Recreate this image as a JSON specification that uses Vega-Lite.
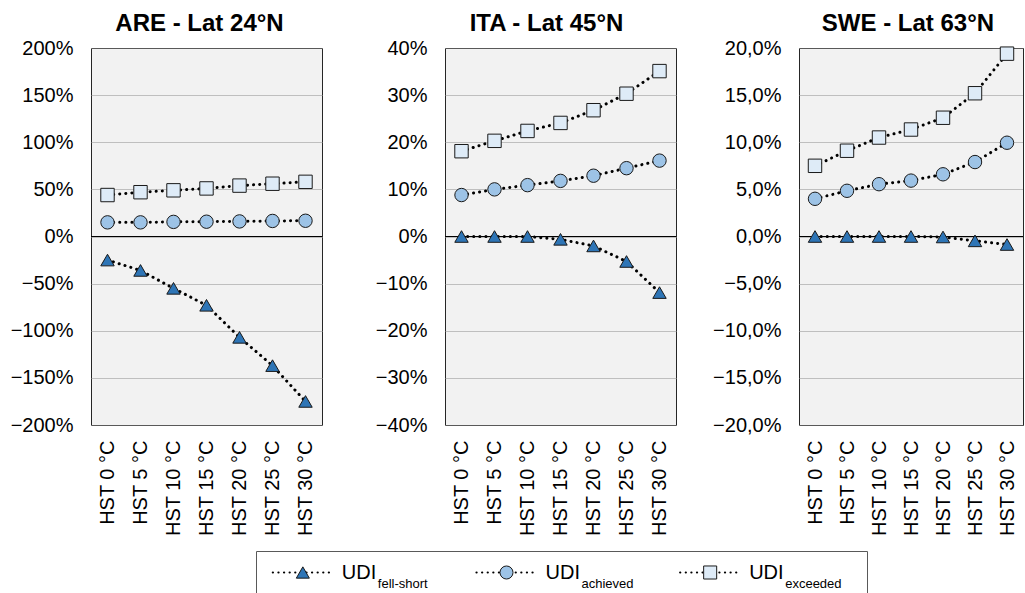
{
  "$schema": "https://vega.github.io/schema/vega-lite/v6.json",
  "background": "white",
  "padding": {"left": 9, "top": 11, "right": 0, "bottom": 0},
  "config": {
    "font": "Liberation Sans",
    "view": {"fill": "#F2F2F2", "stroke": "#262626", "strokeWidth": 1},
    "axisX": {"labelAngle": -90, "labelAlign": "right", "labelBaseline": "middle", "labelFontSize": 20, "labelColor": "#000", "ticks": false, "domain": false, "grid": false, "title": null, "labelPadding": 15},
    "axisY": {"grid": true, "gridColor": "#8c8c8c", "gridDash": [1, 1], "gridWidth": 1, "ticks": false, "domain": false, "labelFontSize": 20, "labelColor": "#000", "labelPadding": 18, "title": null},
    "title": {"fontSize": 24, "fontWeight": "bold", "color": "#000", "anchor": "middle"}
  },
  "datasets": {
    "udi": [
      {"c": "ARE", "hst": "HST 0 °C", "s": "fell-short", "v": -0.25},
      {"c": "ARE", "hst": "HST 5 °C", "s": "fell-short", "v": -0.36},
      {"c": "ARE", "hst": "HST 10 °C", "s": "fell-short", "v": -0.55},
      {"c": "ARE", "hst": "HST 15 °C", "s": "fell-short", "v": -0.73},
      {"c": "ARE", "hst": "HST 20 °C", "s": "fell-short", "v": -1.07},
      {"c": "ARE", "hst": "HST 25 °C", "s": "fell-short", "v": -1.37},
      {"c": "ARE", "hst": "HST 30 °C", "s": "fell-short", "v": -1.75},
      {"c": "ARE", "hst": "HST 0 °C", "s": "achieved", "v": 0.15},
      {"c": "ARE", "hst": "HST 5 °C", "s": "achieved", "v": 0.15},
      {"c": "ARE", "hst": "HST 10 °C", "s": "achieved", "v": 0.155},
      {"c": "ARE", "hst": "HST 15 °C", "s": "achieved", "v": 0.157},
      {"c": "ARE", "hst": "HST 20 °C", "s": "achieved", "v": 0.16},
      {"c": "ARE", "hst": "HST 25 °C", "s": "achieved", "v": 0.165},
      {"c": "ARE", "hst": "HST 30 °C", "s": "achieved", "v": 0.167},
      {"c": "ARE", "hst": "HST 0 °C", "s": "exceeded", "v": 0.44},
      {"c": "ARE", "hst": "HST 5 °C", "s": "exceeded", "v": 0.47},
      {"c": "ARE", "hst": "HST 10 °C", "s": "exceeded", "v": 0.49},
      {"c": "ARE", "hst": "HST 15 °C", "s": "exceeded", "v": 0.51},
      {"c": "ARE", "hst": "HST 20 °C", "s": "exceeded", "v": 0.54},
      {"c": "ARE", "hst": "HST 25 °C", "s": "exceeded", "v": 0.56},
      {"c": "ARE", "hst": "HST 30 °C", "s": "exceeded", "v": 0.58},
      {"c": "ITA", "hst": "HST 0 °C", "s": "fell-short", "v": 0.0},
      {"c": "ITA", "hst": "HST 5 °C", "s": "fell-short", "v": 0.0},
      {"c": "ITA", "hst": "HST 10 °C", "s": "fell-short", "v": 0.0},
      {"c": "ITA", "hst": "HST 15 °C", "s": "fell-short", "v": -0.006},
      {"c": "ITA", "hst": "HST 20 °C", "s": "fell-short", "v": -0.02},
      {"c": "ITA", "hst": "HST 25 °C", "s": "fell-short", "v": -0.053},
      {"c": "ITA", "hst": "HST 30 °C", "s": "fell-short", "v": -0.119},
      {"c": "ITA", "hst": "HST 0 °C", "s": "achieved", "v": 0.088},
      {"c": "ITA", "hst": "HST 5 °C", "s": "achieved", "v": 0.1},
      {"c": "ITA", "hst": "HST 10 °C", "s": "achieved", "v": 0.109},
      {"c": "ITA", "hst": "HST 15 °C", "s": "achieved", "v": 0.118},
      {"c": "ITA", "hst": "HST 20 °C", "s": "achieved", "v": 0.129},
      {"c": "ITA", "hst": "HST 25 °C", "s": "achieved", "v": 0.145},
      {"c": "ITA", "hst": "HST 30 °C", "s": "achieved", "v": 0.161},
      {"c": "ITA", "hst": "HST 0 °C", "s": "exceeded", "v": 0.181},
      {"c": "ITA", "hst": "HST 5 °C", "s": "exceeded", "v": 0.203},
      {"c": "ITA", "hst": "HST 10 °C", "s": "exceeded", "v": 0.224},
      {"c": "ITA", "hst": "HST 15 °C", "s": "exceeded", "v": 0.241},
      {"c": "ITA", "hst": "HST 20 °C", "s": "exceeded", "v": 0.268},
      {"c": "ITA", "hst": "HST 25 °C", "s": "exceeded", "v": 0.303},
      {"c": "ITA", "hst": "HST 30 °C", "s": "exceeded", "v": 0.351},
      {"c": "SWE", "hst": "HST 0 °C", "s": "fell-short", "v": 0.0},
      {"c": "SWE", "hst": "HST 5 °C", "s": "fell-short", "v": 0.0},
      {"c": "SWE", "hst": "HST 10 °C", "s": "fell-short", "v": 0.0},
      {"c": "SWE", "hst": "HST 15 °C", "s": "fell-short", "v": 0.0},
      {"c": "SWE", "hst": "HST 20 °C", "s": "fell-short", "v": -0.0005},
      {"c": "SWE", "hst": "HST 25 °C", "s": "fell-short", "v": -0.0046},
      {"c": "SWE", "hst": "HST 30 °C", "s": "fell-short", "v": -0.0085},
      {"c": "SWE", "hst": "HST 0 °C", "s": "achieved", "v": 0.04},
      {"c": "SWE", "hst": "HST 5 °C", "s": "achieved", "v": 0.0485},
      {"c": "SWE", "hst": "HST 10 °C", "s": "achieved", "v": 0.0555},
      {"c": "SWE", "hst": "HST 15 °C", "s": "achieved", "v": 0.0593},
      {"c": "SWE", "hst": "HST 20 °C", "s": "achieved", "v": 0.066},
      {"c": "SWE", "hst": "HST 25 °C", "s": "achieved", "v": 0.079},
      {"c": "SWE", "hst": "HST 30 °C", "s": "achieved", "v": 0.0995},
      {"c": "SWE", "hst": "HST 0 °C", "s": "exceeded", "v": 0.075},
      {"c": "SWE", "hst": "HST 5 °C", "s": "exceeded", "v": 0.091},
      {"c": "SWE", "hst": "HST 10 °C", "s": "exceeded", "v": 0.105},
      {"c": "SWE", "hst": "HST 15 °C", "s": "exceeded", "v": 0.1135},
      {"c": "SWE", "hst": "HST 20 °C", "s": "exceeded", "v": 0.126},
      {"c": "SWE", "hst": "HST 25 °C", "s": "exceeded", "v": 0.152},
      {"c": "SWE", "hst": "HST 30 °C", "s": "exceeded", "v": 0.194}
    ],
    "leg": [
      {"s": "fell-short", "main": "UDI", "sub": "fell-short"},
      {"s": "achieved", "main": "UDI", "sub": "achieved"},
      {"s": "exceeded", "main": "UDI", "sub": "exceeded"}
    ]
  },
  "spacing": 13,
  "vconcat": [
    {
      "bounds": "flush",
      "spacing": 123,
      "hconcat": [
        {
          "width": 231, "height": 377,
          "title": {"text": "ARE - Lat 24°N", "dx": -7, "offset": 2},
          "data": {"name": "udi"},
          "transform": [{"filter": "datum.c === 'ARE'"}],
          "layer": [
            {"data": {"values": [{}]}, "mark": {"type": "rule", "color": "#000", "strokeWidth": 1.2}, "encoding": {"y": {"datum": 0, "type": "quantitative"}}},
            {"mark": {"type": "line", "color": "#000", "strokeDash": [0.1, 6], "strokeWidth": 3, "strokeCap": "round"},
             "encoding": {"x": {"field": "hst", "type": "ordinal", "sort": ["HST 0 °C", "HST 5 °C", "HST 10 °C", "HST 15 °C", "HST 20 °C", "HST 25 °C", "HST 30 °C"]}, "y": {"field": "v", "type": "quantitative"}, "detail": {"field": "s"}}},
            {"mark": {"type": "point", "filled": true, "size": 180, "stroke": "#1a1a1a", "strokeWidth": 1, "opacity": 1},
             "encoding": {"x": {"field": "hst", "type": "ordinal", "sort": ["HST 0 °C", "HST 5 °C", "HST 10 °C", "HST 15 °C", "HST 20 °C", "HST 25 °C", "HST 30 °C"]}, "y": {"field": "v", "type": "quantitative"},
               "shape": {"field": "s", "type": "nominal", "scale": {"domain": ["fell-short", "achieved", "exceeded"], "range": ["triangle-up", "circle", "square"]}, "legend": null},
               "fill": {"field": "s", "type": "nominal", "scale": {"domain": ["fell-short", "achieved", "exceeded"], "range": ["#2E75B6", "#9DC3E6", "#DEEBF7"]}, "legend": null}}}
          ],
          "encoding": {
            "y": {"scale": {"domain": [-2, 2], "nice": false, "zero": false}, "axis": {"values": [-2, -1.5, -1, -0.5, 0, 0.5, 1, 1.5, 2], "format": ".0%"}}
          }
        },
        {
          "width": 231, "height": 377,
          "title": {"text": "ITA - Lat 45°N", "dx": -14, "offset": 2},
          "data": {"name": "udi"},
          "transform": [{"filter": "datum.c === 'ITA'"}],
          "layer": [
            {"data": {"values": [{}]}, "mark": {"type": "rule", "color": "#000", "strokeWidth": 1.2}, "encoding": {"y": {"datum": 0, "type": "quantitative"}}},
            {"mark": {"type": "line", "color": "#000", "strokeDash": [0.1, 6], "strokeWidth": 3, "strokeCap": "round"},
             "encoding": {"x": {"field": "hst", "type": "ordinal", "sort": ["HST 0 °C", "HST 5 °C", "HST 10 °C", "HST 15 °C", "HST 20 °C", "HST 25 °C", "HST 30 °C"]}, "y": {"field": "v", "type": "quantitative"}, "detail": {"field": "s"}}},
            {"mark": {"type": "point", "filled": true, "size": 180, "stroke": "#1a1a1a", "strokeWidth": 1, "opacity": 1},
             "encoding": {"x": {"field": "hst", "type": "ordinal", "sort": ["HST 0 °C", "HST 5 °C", "HST 10 °C", "HST 15 °C", "HST 20 °C", "HST 25 °C", "HST 30 °C"]}, "y": {"field": "v", "type": "quantitative"},
               "shape": {"field": "s", "type": "nominal", "scale": {"domain": ["fell-short", "achieved", "exceeded"], "range": ["triangle-up", "circle", "square"]}, "legend": null},
               "fill": {"field": "s", "type": "nominal", "scale": {"domain": ["fell-short", "achieved", "exceeded"], "range": ["#2E75B6", "#9DC3E6", "#DEEBF7"]}, "legend": null}}}
          ],
          "encoding": {
            "y": {"scale": {"domain": [-0.4, 0.4], "nice": false, "zero": false}, "axis": {"values": [-0.4, -0.3, -0.2, -0.1, 0, 0.1, 0.2, 0.3, 0.4], "format": ".0%"}}
          }
        },
        {
          "width": 224, "height": 377,
          "title": {"text": "SWE - Lat 63°N", "dx": -3, "offset": 2},
          "data": {"name": "udi"},
          "transform": [{"filter": "datum.c === 'SWE'"}],
          "layer": [
            {"data": {"values": [{}]}, "mark": {"type": "rule", "color": "#000", "strokeWidth": 1.2}, "encoding": {"y": {"datum": 0, "type": "quantitative"}}},
            {"mark": {"type": "line", "color": "#000", "strokeDash": [0.1, 6], "strokeWidth": 3, "strokeCap": "round"},
             "encoding": {"x": {"field": "hst", "type": "ordinal", "sort": ["HST 0 °C", "HST 5 °C", "HST 10 °C", "HST 15 °C", "HST 20 °C", "HST 25 °C", "HST 30 °C"]}, "y": {"field": "v", "type": "quantitative"}, "detail": {"field": "s"}}},
            {"mark": {"type": "point", "filled": true, "size": 180, "stroke": "#1a1a1a", "strokeWidth": 1, "opacity": 1},
             "encoding": {"x": {"field": "hst", "type": "ordinal", "sort": ["HST 0 °C", "HST 5 °C", "HST 10 °C", "HST 15 °C", "HST 20 °C", "HST 25 °C", "HST 30 °C"]}, "y": {"field": "v", "type": "quantitative"},
               "shape": {"field": "s", "type": "nominal", "scale": {"domain": ["fell-short", "achieved", "exceeded"], "range": ["triangle-up", "circle", "square"]}, "legend": null},
               "fill": {"field": "s", "type": "nominal", "scale": {"domain": ["fell-short", "achieved", "exceeded"], "range": ["#2E75B6", "#9DC3E6", "#DEEBF7"]}, "legend": null}}}
          ],
          "encoding": {
            "y": {"scale": {"domain": [-0.2, 0.2], "nice": false, "zero": false}, "axis": {"values": [-0.2, -0.15, -0.1, -0.05, 0, 0.05, 0.1, 0.15, 0.2], "labelExpr": "replace(format(datum.value, '.1%'), '.', ',')"}}
          }
        }
      ]
    },
    {
      "bounds": "flush",
      "spacing": 0,
      "hconcat": [
        {"width": 165, "height": 43, "data": {"values": []}, "mark": "point", "view": {"stroke": null, "fill": null}},
        {
          "width": 611, "height": 43,
          "view": {"fill": "white", "stroke": "#595959", "strokeWidth": 1},
          "data": {"name": "leg"},
          "encoding": {
            "x": {"field": "s", "type": "nominal", "sort": ["fell-short", "achieved", "exceeded"], "scale": {"type": "band", "paddingInner": 0, "paddingOuter": 0}, "axis": null},
            "y": {"datum": 0, "type": "quantitative", "scale": {"domain": [-1, 1]}, "axis": null}
          },
          "layer": [
            {"mark": {"type": "rule", "xOffset": -85, "x2Offset": -27, "strokeDash": [0.1, 5.5], "strokeWidth": 2.2, "strokeCap": "round", "color": "#000"}, "encoding": {"x2": {"field": "s"}}},
            {"mark": {"type": "point", "filled": true, "size": 170, "stroke": "#1a1a1a", "strokeWidth": 1, "opacity": 1, "xOffset": -55},
             "encoding": {
               "shape": {"field": "s", "type": "nominal", "scale": {"domain": ["fell-short", "achieved", "exceeded"], "range": ["triangle-up", "circle", "square"]}, "legend": null},
               "fill": {"field": "s", "type": "nominal", "scale": {"domain": ["fell-short", "achieved", "exceeded"], "range": ["#2E75B6", "#9DC3E6", "#DEEBF7"]}, "legend": null}}},
            {"mark": {"type": "text", "align": "left", "baseline": "alphabetic", "dx": -16, "dy": 6, "fontSize": 20, "color": "#000"}, "encoding": {"text": {"field": "main"}}},
            {"mark": {"type": "text", "align": "left", "baseline": "alphabetic", "dx": 20, "dy": 15, "fontSize": 13, "color": "#000"}, "encoding": {"text": {"field": "sub"}}}
          ]
        }
      ]
    }
  ]
}
